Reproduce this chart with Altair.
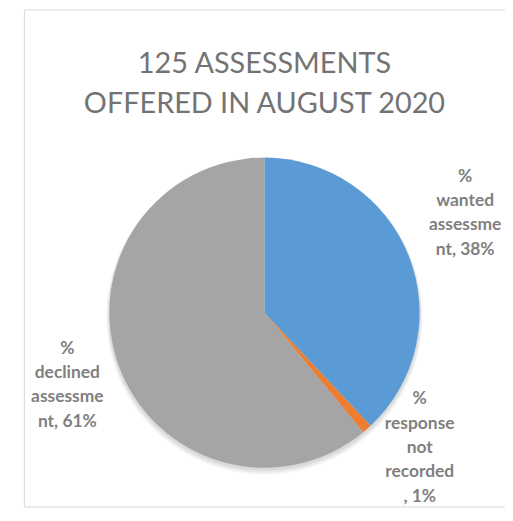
import altair as alt
import pandas as pd

categories = ["% wanted assessment", "% response not recorded", "% declined assessment"]
values = [38, 1, 61]
label_lines = [
    ["%", "wanted", "assessme", "nt, 38%"],
    ["%", "response", "not", "recorded", ", 1%"],
    ["%", "declined", "assessme", "nt, 61%"],
]
colors = ["#5B9BD5", "#ED7D31", "#A5A5A5"]
title_lines = ["125 ASSESSMENTS", "OFFERED IN AUGUST 2020"]

df = pd.DataFrame({
    "category": categories,
    "value": values,
    "order": list(range(len(categories))),
    "label": ["\n".join(l) for l in label_lines],
})

CX, CY, R = 242, 305, 156
LH = 24.5
theta_scale = alt.Scale(domain=[0, 100], range=[0, 6.283185307179586])

base = alt.Chart(df)

shadows = []
for extra, off, op in [(3, 4, 0.04), (2, 3, 0.05), (1, 2, 0.06)]:
    shadows.append(
        base.mark_arc(radius=R + extra, color="black", opacity=op).encode(
            theta=alt.Theta("value:Q", stack=True, scale=theta_scale),
            order=alt.Order("order:Q"),
            x=alt.value(CX),
            y=alt.value(CY + off),
        )
    )

pie = base.mark_arc(radius=R).encode(
    theta=alt.Theta("value:Q", stack=True, scale=theta_scale),
    order=alt.Order("order:Q"),
    color=alt.Color("category:N", scale=alt.Scale(domain=categories, range=colors), legend=None),
    x=alt.value(CX),
    y=alt.value(CY),
)

lab_base = base.transform_window(
    cum="sum(value)", sort=[alt.SortField("order")]
).transform_calculate(mid="datum.cum - datum.value / 2")

nudges = [(2, -21), (14, -25), (4, 0)]
text_layers = []
for cat, lines, (ddx, ddy) in zip(categories, label_lines, nudges):
    t = lab_base.transform_filter(alt.datum.category == cat).mark_text(
        font="Lato", fontSize=17.5, fontWeight="bold", color="#7F7F7F",
        lineBreak="\n", lineHeight=LH, align="center", baseline="middle",
        dx=ddx, dy=ddy - (len(lines) - 1) * LH / 2,
    ).encode(
        theta=alt.Theta("mid:Q", scale=theta_scale),
        radius=alt.value(215),
        text="label:N",
        x=alt.value(CX),
        y=alt.value(CY),
    )
    text_layers.append(t)

chart = alt.layer(*shadows, pie, *text_layers).properties(
    width=484,
    height=500,
    padding={"left": 16, "top": 0, "right": 0, "bottom": 0},
    autosize=alt.AutoSizeParams(type="none"),
    title=alt.TitleParams(
        text=title_lines, font="Lato", fontSize=29, fontWeight="normal",
        color="#737373", anchor="middle", offset=-110, lineHeight=40,
    ),
).configure_view(stroke="#D9D9D9", strokeWidth=1)

chart.save("out.html", embed_options={"renderer": "svg", "actions": False})
